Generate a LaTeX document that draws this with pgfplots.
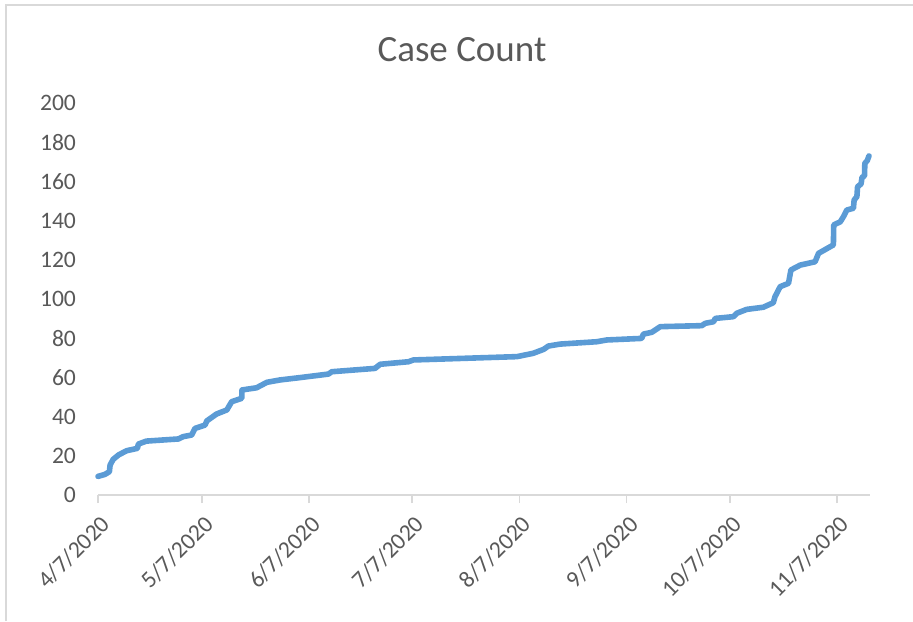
\documentclass[border=0pt]{standalone}
\usepackage{fontspec}
\setmainfont{Carlito}
\usepackage{pgfplots}
\pgfplotsset{compat=1.18}
\definecolor{linecol}{HTML}{5B9BD5}
\definecolor{txtcol}{HTML}{595959}
\definecolor{axcol}{HTML}{D9D9D9}
\begin{document}
\begin{tikzpicture}
\useasboundingbox (0,0) rectangle (456.5pt,310.5pt);
\draw[axcol, line width=1.2pt] (3pt,0) -- (3pt,308pt) -- (456.5pt,308pt);
\node[txtcol, font=\fontsize{18.5}{22}\selectfont] at (231pt,285.5pt) {Case Count};
\begin{axis}[
  at={(49pt,63pt)}, anchor=origin,
  scale only axis, width=386pt, height=196pt,
  xmin=0, xmax=223.5, ymin=0, ymax=200,
  axis x line*=bottom, axis y line*=left,
  y axis line style={draw=none},
  x axis line style={draw=axcol, line width=0.9pt},
  ytick={0,20,...,200},
  ytick style={draw=none},
  xtick={0,30,61,91,122,153,183,214},
  xticklabels={4/7/2020,5/7/2020,6/7/2020,7/7/2020,8/7/2020,9/7/2020,10/7/2020,11/7/2020},
  xtick style={draw=axcol, line width=0.9pt},
  tick align=outside, major tick length=4pt,
  /pgf/number format/assume math mode=true,
  yticklabel style={font=\fontsize{11.8}{13}\selectfont, text=txtcol, anchor=east, xshift=-3.5pt},
  xticklabel style={font=\fontsize{11.8}{13}\selectfont, text=txtcol, rotate=45, anchor=north east, xshift=0pt, yshift=-1pt},
  clip=false,
]
\addplot[linecol, line width=2.8pt, line cap=round, line join=round] coordinates {
(0,9.5) (2,10.5) (3.3,11.9) (3.5,15.3) (4.4,18.2) (6,20.5) (8.3,22.6) (11.4,23.8) (11.7,26) (14,27.5)
(23.3,28.6) (24.7,29.8) (27.1,30.6) (28.1,34) (31,35.7) (31.5,37.8) (34.3,41.3) (37.3,43.4) (38.7,47.6)
(41.6,49.3) (41.7,53.6) (45.9,54.7) (48.9,57.5) (52.7,58.7) (58.5,59.9) (66.7,61.7) (67.7,62.9)
(80.2,64.6) (81.7,66.7) (89.9,68) (91.3,68.9) (121.3,70.6) (126,72.3) (129,74.3) (130.4,76) (133.8,77)
(144.4,78.2) (147.3,79.1) (157.4,79.9) (157.9,82.1) (160.3,83) (162.8,85.9) (174.8,86.4) (175.8,87.6)
(178.2,88.4) (178.7,90.1) (184,91) (184.9,92.7) (187.8,94.7) (192.6,95.8) (195.5,98.1) (196,101.2)
(197.5,106.3) (199.9,108) (200.6,114.8) (203.3,117.3) (207.6,119) (208.6,123.3) (212.9,127.6)
(213,137.8) (214.9,139.4) (215.8,142) (216.8,145.4) (218.7,146.3) (218.9,150.5) (219.7,152.2)
(219.9,157.3) (220.9,158.7) (221.2,162.1) (221.9,162.8) (222,169.2) (222.7,170.6) (223.2,173)
};
\end{axis}
\end{tikzpicture}
\end{document}
